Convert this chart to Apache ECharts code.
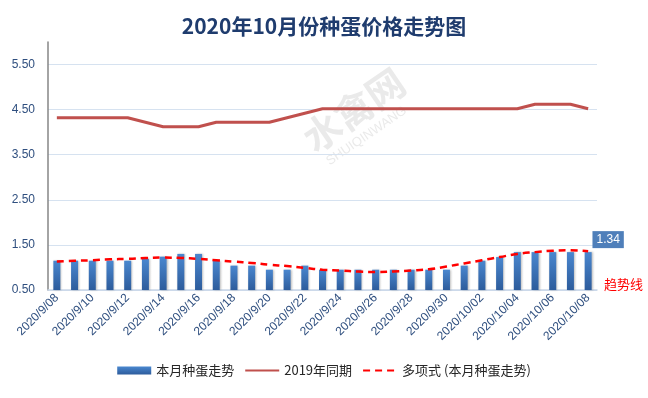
<!DOCTYPE html>
<html>
<head>
<meta charset="utf-8">
<script src="https://cdn.jsdelivr.net/npm/echarts@6/dist/echarts.min.js"></script>
<style>
  html, body { margin: 0; padding: 0; background: #fff; }
  #chart { width: 648px; height: 398px; }
</style>
</head>
<body>
<div id="chart"></div>
<script>
const dates = [
  '2020/9/08', '2020/9/09', '2020/9/10', '2020/9/11', '2020/9/12', '2020/9/13', '2020/9/14',
  '2020/9/15', '2020/9/16', '2020/9/17', '2020/9/18', '2020/9/19', '2020/9/20', '2020/9/21',
  '2020/9/22', '2020/9/23', '2020/9/24', '2020/9/25', '2020/9/26', '2020/9/27', '2020/9/28',
  '2020/9/29', '2020/9/30', '2020/10/01', '2020/10/02', '2020/10/03', '2020/10/04',
  '2020/10/05', '2020/10/06', '2020/10/07', '2020/10/08'
]
const thisMonth = [
  1.15, 1.15, 1.15, 1.15, 1.15, 1.19, 1.24, 1.30, 1.30, 1.15, 1.04, 1.04, 0.95, 0.95,
  1.04, 0.95, 0.95, 0.95, 0.95, 0.95, 0.95, 0.95, 0.95, 1.04, 1.15, 1.23, 1.34,
  1.34, 1.34, 1.34, 1.34
]
const lastYear = [
  4.32, 4.32, 4.32, 4.32, 4.32, 4.22, 4.12, 4.12, 4.12, 4.22, 4.22, 4.22, 4.22, 4.32,
  4.42, 4.52, 4.52, 4.52, 4.52, 4.52, 4.52, 4.52, 4.52, 4.52, 4.52, 4.52, 4.52,
  4.62, 4.62, 4.62, 4.52
]
const trend = [
  1.13, 1.15, 1.16, 1.18, 1.19, 1.21, 1.22, 1.21, 1.19, 1.16, 1.13, 1.10, 1.06, 1.03,
  0.99, 0.95, 0.93, 0.91, 0.90, 0.91, 0.93, 0.96, 1.02, 1.09, 1.16, 1.23, 1.30,
  1.34, 1.37, 1.38, 1.36
]
const seriesNames = ['本月种蛋走势', '2019年同期', '多项式 (本月种蛋走势)']

const chart = echarts.init(document.getElementById('chart'))

const barColor = new echarts.graphic.LinearGradient(0, 0, 0, 1, [
  { offset: 0, color: '#4a87cf' },
  { offset: 1, color: '#2d5c9c' }
])

const lastIndex = thisMonth.length - 1

chart.setOption({
  backgroundColor: '#fff',
  animation: false,
  title: {
    text: '2020年10月份种蛋价格走势图',
    left: 'center',
    top: 11,
    textStyle: {
      color: '#1f3c6e',
      fontSize: 21,
      fontWeight: 'bold',
      fontFamily: 'Noto Sans CJK SC'
    }
  },
  grid: {
    left: 48,
    right: 51,
    top: 42,
    bottom: 108
  },
  legend: {
    data: [
      { name: seriesNames[0], icon: 'rect' },
      { name: seriesNames[1], itemStyle: { opacity: 0 } },
      { name: seriesNames[2], itemStyle: { opacity: 0 } }
    ],
    left: 'center',
    bottom: 16,
    itemWidth: 34,
    itemHeight: 8,
    itemGap: 10,
    textStyle: { color: '#262626', fontSize: 13, fontFamily: 'Noto Sans CJK SC' }
  },
  xAxis: {
    type: 'category',
    data: dates,
    axisLine: { onZero: false, lineStyle: { color: '#c9d6e8', width: 1.5 } },
    axisTick: { show: false },
    axisLabel: {
      interval: 1,
      rotate: 45,
      color: '#2f4f7f',
      fontSize: 12,
      margin: 6,
      fontFamily: 'Liberation Sans'
    }
  },
  yAxis: {
    type: 'value',
    min: 0.5,
    max: 6,
    interval: 1,
    axisLine: { show: true, lineStyle: { color: '#868686', width: 1.5 } },
    axisTick: { show: false },
    axisLabel: {
      showMaxLabel: false,
      color: '#2f4f7f',
      fontSize: 12,
      margin: 13,
      align: 'right',
      fontFamily: 'Liberation Sans',
      formatter: (v) => v.toFixed(2)
    },
    splitLine: { showMaxLine: false, lineStyle: { color: '#d6e2f0', width: 1.2 } }
  },
  graphic: [
    {
      type: 'text',
      left: 296,
      top: 62,
      rotation: 0.6,
      style: { text: '水禽网', fill: 'rgba(170,170,170,0.25)', fontSize: 38, fontWeight: 'bold', fontFamily: 'Noto Sans CJK SC' }
    },
    {
      type: 'text',
      left: 324,
      top: 104,
      rotation: 0.6,
      style: { text: 'SHUIQINWANG', fill: 'rgba(170,170,170,0.25)', fontSize: 13, fontFamily: 'Liberation Sans' }
    },
    {
      type: 'text',
      left: 604,
      top: 278,
      style: { text: '趋势线', fill: '#ff0000', fontSize: 13, fontFamily: 'Noto Sans CJK SC' }
    }
  ],
  series: [
    {
      name: seriesNames[0],
      type: 'bar',
      data: thisMonth.map((v, i) => i === lastIndex
        ? {
            value: v,
            label: {
              show: true,
              position: 'top',
              distance: 4,
              offset: [20, 0],
              color: '#fff',
              fontSize: 12,
              backgroundColor: '#4f7fba',
              padding: [3, 4, 2, 4],
              formatter: (p) => p.value.toFixed(2)
            }
          }
        : v),
      barWidth: 7,
      itemStyle: {
        color: barColor,
        shadowColor: 'rgba(0,0,0,0.25)',
        shadowBlur: 2,
        shadowOffsetX: 1
      },
      z: 2
    },
    {
      name: seriesNames[1],
      type: 'line',
      data: lastYear,
      symbol: 'none',
      lineStyle: { color: '#c0504d', width: 3 },
      itemStyle: { color: '#c0504d' },
      z: 3
    },
    {
      name: seriesNames[2],
      type: 'line',
      data: trend,
      smooth: true,
      symbol: 'none',
      lineStyle: { color: '#ff0000', width: 2.5, type: [7, 5] },
      itemStyle: { color: '#ff0000' },
      z: 4
    }
  ]
})
</script>
</body>
</html>
